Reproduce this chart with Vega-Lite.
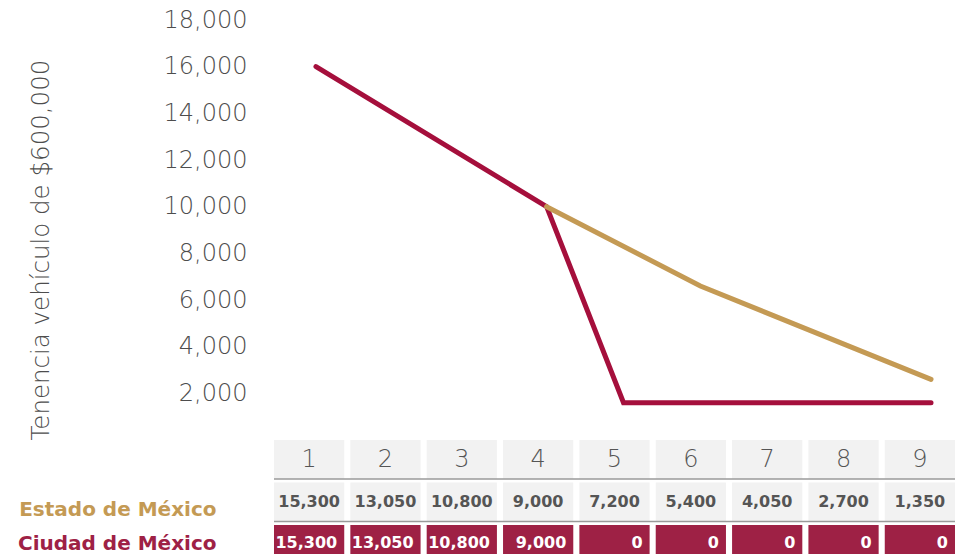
{
  "$schema": "https://vega.github.io/schema/vega-lite/v6.json",
  "padding": {"left": 17, "top": 8, "right": 0, "bottom": 0},
  "spacing": 0,
  "config": {"view": {"stroke": null}, "font": "Open Sans"},
  "datasets": {
    "lines": [
      {"serie": "Ciudad de México", "col": 1, "valor": 16000},
      {"serie": "Ciudad de México", "col": 4, "valor": 10000},
      {"serie": "Ciudad de México", "col": 5, "valor": 1600},
      {"serie": "Ciudad de México", "col": 9, "valor": 1600},
      {"serie": "Estado de México", "col": 4, "valor": 10000},
      {"serie": "Estado de México", "col": 6, "valor": 6600},
      {"serie": "Estado de México", "col": 9, "valor": 2600}
    ],
    "table": [
      {"fila": "hdr", "col": 1, "valor": "1"},
      {"fila": "hdr", "col": 2, "valor": "2"},
      {"fila": "hdr", "col": 3, "valor": "3"},
      {"fila": "hdr", "col": 4, "valor": "4"},
      {"fila": "hdr", "col": 5, "valor": "5"},
      {"fila": "hdr", "col": 6, "valor": "6"},
      {"fila": "hdr", "col": 7, "valor": "7"},
      {"fila": "hdr", "col": 8, "valor": "8"},
      {"fila": "hdr", "col": 9, "valor": "9"},
      {"fila": "Estado de México", "col": 1, "valor": "15,300"},
      {"fila": "Estado de México", "col": 2, "valor": "13,050"},
      {"fila": "Estado de México", "col": 3, "valor": "10,800"},
      {"fila": "Estado de México", "col": 4, "valor": "9,000"},
      {"fila": "Estado de México", "col": 5, "valor": "7,200"},
      {"fila": "Estado de México", "col": 6, "valor": "5,400"},
      {"fila": "Estado de México", "col": 7, "valor": "4,050"},
      {"fila": "Estado de México", "col": 8, "valor": "2,700"},
      {"fila": "Estado de México", "col": 9, "valor": "1,350"},
      {"fila": "Ciudad de México", "col": 1, "valor": "15,300"},
      {"fila": "Ciudad de México", "col": 2, "valor": "13,050"},
      {"fila": "Ciudad de México", "col": 3, "valor": "10,800"},
      {"fila": "Ciudad de México", "col": 4, "valor": "9,000"},
      {"fila": "Ciudad de México", "col": 5, "valor": "0"},
      {"fila": "Ciudad de México", "col": 6, "valor": "0"},
      {"fila": "Ciudad de México", "col": 7, "valor": "0"},
      {"fila": "Ciudad de México", "col": 8, "valor": "0"},
      {"fila": "Ciudad de México", "col": 9, "valor": "0"}
    ]
  },
  "vconcat": [
    {
      "width": 699,
      "height": 420,
      "data": {"name": "lines"},
      "encoding": {
        "x": {"field": "col", "type": "ordinal", "scale": {"type": "point", "domain": [1,2,3,4,5,6,7,8,9], "padding": 0.546}, "axis": null},
        "y": {
          "field": "valor", "type": "quantitative",
          "scale": {"domain": [0, 18000]},
          "axis": {
            "values": [2000,4000,6000,8000,10000,12000,14000,16000,18000],
            "format": ",.0f", "domain": false, "ticks": false, "grid": false,
            "labelFont": "DejaVu Sans", "labelFontSize": 24, "labelFontWeight": 200, "labelColor": "#4d4d4d", "labelPadding": 27,
            "title": "Tenencia vehículo de $600,000", "titleFont": "DejaVu Sans", "titleFontSize": 24.5, "titleFontWeight": 200,
            "titleColor": "#4d4d4d", "titleAnchor": "start", "titlePadding": 110
          }
        }
      },
      "layer": [
        {
          "transform": [{"filter": "datum.serie == 'Ciudad de México'"}],
          "mark": {"type": "line", "strokeWidth": 5, "strokeCap": "round", "color": "#a50f3c"}
        },
        {
          "transform": [{"filter": "datum.serie == 'Estado de México'"}],
          "mark": {"type": "line", "strokeWidth": 5, "strokeCap": "round", "color": "#c49a54"}
        }
      ]
    },
    {
      "width": 681,
      "height": 124,
      "data": {"name": "table"},
      "encoding": {
        "x": {"field": "col", "type": "ordinal", "scale": {"type": "band", "domain": [1,2,3,4,5,6,7,8,9], "paddingInner": 0.08, "paddingOuter": 0}, "axis": null},
        "y": {
          "field": "fila", "type": "nominal",
          "scale": {"domain": ["hdr", "Estado de México", "Ciudad de México"], "paddingInner": 0.082, "paddingOuter": 0},
          "axis": {
            "title": null, "domain": false, "ticks": false,
            "labelExpr": "datum.value == 'hdr' ? '' : datum.value",
            "labelFont": "DejaVu Sans", "labelFontSize": 20, "labelFontWeight": "bold", "labelPadding": 58, "labelLimit": 400,
            "labelOffset": {"condition": {"test": "datum.value == 'Estado de México'", "value": 8}, "value": 0},
            "labelColor": {"condition": {"test": "datum.value == 'Estado de México'", "value": "#c49a54"}, "value": "#9e2145"}
          }
        }
      },
      "layer": [
        {
          "mark": {"type": "rect"},
          "encoding": {
            "color": {"field": "fila", "type": "nominal", "scale": {"domain": ["hdr", "Estado de México", "Ciudad de México"], "range": ["#f2f2f2", "#f2f2f2", "#9e2145"]}, "legend": null}
          }
        },
        {
          "transform": [{"filter": "datum.fila != 'Ciudad de México' && datum.col == 1"}],
          "mark": {"type": "rule", "color": "#9a9a9a", "strokeWidth": 1.5},
          "encoding": {
            "x": {"value": 0},
            "x2": {"value": 681},
            "y": {"field": "fila", "type": "nominal", "bandPosition": 1}
          }
        },
        {
          "transform": [{"filter": "datum.fila == 'hdr'"}],
          "mark": {"type": "text", "font": "DejaVu Sans", "fontSize": 24, "fontWeight": 200, "color": "#555"},
          "encoding": {"text": {"field": "valor"}}
        },
        {
          "transform": [{"filter": "datum.fila == 'Estado de México'"}],
          "mark": {"type": "text", "font": "DejaVu Sans", "fontSize": 16, "fontWeight": "bold", "color": "#555"},
          "encoding": {"text": {"field": "valor"}}
        },
        {
          "transform": [{"filter": "datum.fila == 'Ciudad de México'"}],
          "mark": {"type": "text", "font": "DejaVu Sans", "fontSize": 16, "fontWeight": "bold", "color": "white", "align": "right", "dx": -7, "baseline": "middle"},
          "encoding": {
            "x": {"field": "col", "type": "ordinal", "bandPosition": 1},
            "y": {"field": "fila", "type": "nominal", "bandPosition": 0.45},
            "text": {"field": "valor"}
          }
        }
      ]
    }
  ]
}
